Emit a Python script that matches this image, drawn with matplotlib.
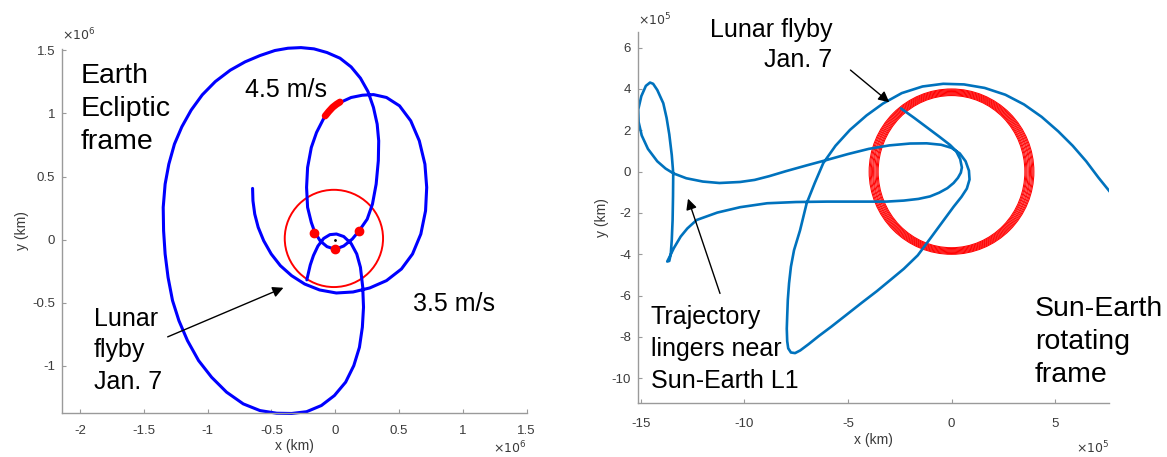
import matplotlib
matplotlib.use('Agg')
import matplotlib.pyplot as plt
from matplotlib.patches import Circle, Ellipse

plt.rcParams['font.family'] = ['Liberation Sans', 'DejaVu Sans']
plt.rcParams['axes.unicode_minus'] = False

# ---------------- left panel data (units of 1e6 km) ----------------
left_x = [-0.647, -0.644, -0.630, -0.603, -0.560, -0.501, -0.429, -0.341, -0.239, -0.122,
          0.009, 0.140, 0.271, 0.402, 0.519, 0.606, 0.671, 0.708, 0.717, 0.703,
          0.659, 0.592, 0.504, 0.402, 0.300, 0.213, 0.125, 0.038, -0.035, -0.093,
          -0.146, -0.187, -0.216, -0.224, -0.216, -0.187, -0.160, -0.117, -0.064, 0.000,
          0.067, 0.134, 0.188, 0.251, 0.292, 0.321, 0.338, 0.341, 0.329, 0.300,
          0.257, 0.198, 0.125, 0.038, -0.064, -0.166, -0.268, -0.370, -0.472, -0.589,
          -0.706, -0.822, -0.939, -1.041, -1.128, -1.201, -1.259, -1.303, -1.332, -1.347,
          -1.344, -1.332, -1.309, -1.274, -1.224, -1.157, -1.070, -0.968, -0.851, -0.720,
          -0.589, -0.458, -0.341, -0.224, -0.108, -0.006, 0.082, 0.146, 0.190, 0.213,
          0.222, 0.216, 0.198, 0.169, 0.125, 0.067, 0.010, -0.041, -0.090, -0.135,
          -0.170, -0.195, -0.210, -0.222]
left_y = [0.406, 0.308, 0.203, 0.098, -0.008, -0.113, -0.206, -0.285, -0.351, -0.398,
          -0.422, -0.414, -0.382, -0.324, -0.232, -0.113, 0.045, 0.229, 0.414, 0.598,
          0.783, 0.941, 1.060, 1.126, 1.149, 1.144, 1.126, 1.086, 1.033, 0.954,
          0.849, 0.730, 0.572, 0.414, 0.256, 0.137, 0.060, -0.010, -0.055, -0.076,
          -0.050, 0.005, 0.071, 0.163, 0.282, 0.440, 0.625, 0.783, 0.915, 1.047,
          1.173, 1.279, 1.368, 1.437, 1.482, 1.511, 1.521, 1.516, 1.498, 1.458,
          1.408, 1.342, 1.252, 1.147, 1.026, 0.894, 0.757, 0.598, 0.440, 0.256,
          0.071, -0.113, -0.298, -0.482, -0.641, -0.799, -0.957, -1.089, -1.207, -1.300,
          -1.353, -1.374, -1.376, -1.362, -1.313, -1.234, -1.128, -0.997, -0.852, -0.693,
          -0.535, -0.377, -0.219, -0.113, -0.030, 0.025, 0.045, 0.040, 0.010, -0.050,
          -0.125, -0.200, -0.265, -0.318]

burn_x = [-0.078, -0.050, -0.020, 0.010, 0.038]
burn_y = [0.980, 1.015, 1.048, 1.072, 1.090]
dots_x = [-0.167, 0.000, 0.188]
dots_y = [0.050, -0.076, 0.071]
moon_r = 0.385

left_xticks = [-2, -1.5, -1, -0.5, 0, 0.5, 1, 1.5]
left_yticks = [-1, -0.5, 0, 0.5, 1, 1.5]

# ---------------- right panel data (units of 1e5 km) ----------------
right_x = [-2.44, -1.80, -1.20, -0.60, -0.07, 0.22, 0.42, 0.50, 0.45, 0.31,
           0.10, -0.20, -0.60, -1.04, -1.60, -2.30, -3.14, -4.50, -6.00, -7.50,
           -8.90, -10.20, -11.30, -12.30, -12.75, -13.07, -13.40, -13.62, -13.72, -13.62,
           -13.55, -13.50, -13.46, -13.44, -13.43, -13.50, -13.62, -13.75, -13.91, -14.20,
           -14.40, -14.55, -14.75, -14.97, -15.12, -15.10, -14.95, -14.65, -14.20, -13.80,
           -13.43, -12.80, -12.00, -11.20, -10.20, -9.50, -8.80, -8.00, -7.00, -6.00,
           -5.00, -4.00, -3.00, -2.00, -1.20, -0.50, 0.00, 0.40, 0.68, 0.84,
           0.87, 0.74, 0.48, 0.10, -0.45, -1.00, -1.63, -2.30, -2.90, -3.60,
           -4.34, -5.10, -5.80, -6.40, -6.90, -7.30, -7.55, -7.75, -7.88, -7.93,
           -7.95, -7.93, -7.90, -7.84, -7.75, -7.60, -7.31, -6.99, -6.60, -6.19,
           -5.60, -4.90, -4.10, -3.30, -2.40, -1.40, -0.40, 0.60, 1.60, 2.60,
           3.50, 4.35, 5.15, 5.85, 6.50, 7.10, 7.64]
right_y = [3.06, 2.60, 2.15, 1.70, 1.29, 1.00, 0.60, 0.20, -0.05, -0.30,
           -0.55, -0.80, -1.02, -1.20, -1.32, -1.40, -1.45, -1.45, -1.45, -1.47,
           -1.53, -1.72, -1.98, -2.34, -2.75, -3.14, -3.70, -4.15, -4.35, -4.32,
           -4.00, -3.30, -2.34, -1.20, -0.08, 0.80, 1.80, 2.60, 3.31, 3.95,
           4.25, 4.31, 4.15, 3.65, 3.00, 2.40, 1.75, 1.10, 0.50, 0.15,
           -0.08, -0.32, -0.48, -0.55, -0.50, -0.40, -0.22, 0.02, 0.30, 0.57,
           0.85, 1.10, 1.27, 1.36, 1.37, 1.30, 1.15, 0.88, 0.50, 0.05,
           -0.38, -0.82, -1.22, -1.70, -2.45, -3.20, -4.05, -4.70, -5.20, -5.78,
           -6.35, -6.95, -7.50, -7.95, -8.35, -8.65, -8.78, -8.75, -8.55, -8.20,
           -7.60, -7.00, -6.20, -5.40, -4.60, -3.80, -2.84, -1.53, -0.55, 0.41,
           1.25, 2.02, 2.72, 3.30, 3.80, 4.12, 4.25, 4.22, 4.05, 3.72,
           3.25, 2.65, 1.95, 1.25, 0.50, -0.30, -0.97]

ring_w = [7.08, 7.18, 7.28, 7.40, 7.52, 7.62, 7.74, 7.85, 7.95]
ring_h = [7.36, 7.44, 7.52, 7.60, 7.68, 7.76, 7.84, 7.92, 8.00]

right_xticks = [-15, -10, -5, 0, 5]
right_yticks = [-10, -8, -6, -4, -2, 0, 2, 4, 6]

TXT = 18
BIG = 20.5
TICK = 9.5
GREY = '#3a3a3a'
SPINE = '#9a9a9a'


def matlab_axes(ax, xt, yt, xpad, xlabpad):
    # box off, inward ticks, grey axes like the MATLAB default
    for s in ['top', 'right']:
        ax.spines[s].set_visible(False)
    for s in ['left', 'bottom']:
        ax.spines[s].set_color(SPINE)
        ax.spines[s].set_linewidth(1.0)
    ax.set_xticks(xt)
    ax.set_yticks(yt)
    ax.set_xticklabels(['{:g}'.format(v) for v in xt])
    ax.set_yticklabels(['{:g}'.format(v) for v in yt])
    ax.tick_params(direction='in', length=3, width=0.8, color=SPINE,
                   labelsize=TICK, labelcolor=GREY, pad=5)
    ax.tick_params(axis='x', pad=xpad)
    ax.set_xlabel('x (km)', fontsize=TICK + 0.5, color=GREY, labelpad=xlabpad)
    ax.set_ylabel('y (km)', fontsize=TICK + 0.5, color=GREY, labelpad=2)


fig = plt.figure(figsize=(11.67, 4.57), dpi=100)

# ---------------- left panel ----------------
ax1 = fig.add_axes([0.0531, 0.0969, 0.3982, 0.7959])
ax1.plot(left_x, left_y, color='#0000FF', lw=2.2, solid_capstyle='round', clip_on=False)
ax1.add_patch(Circle((-0.01, 0.01), moon_r, fill=False, color='#FF0000', lw=1.4))
ax1.plot(burn_x, burn_y, color='#FF0000', lw=5, solid_capstyle='round')
ax1.plot(dots_x, dots_y, 'o', color='#FF0000', ms=6)
ax1.plot([0], [0], 'o', color='black', ms=1)
ax1.set_xlim(-2.14, 1.5)
ax1.set_ylim(-1.37, 1.51)
matlab_axes(ax1, left_xticks, left_yticks, 9, 1)

ax1.text(-1.994, 1.40, 'Earth\nEcliptic\nframe', fontsize=BIG, va='top', ha='left', linespacing=1.35)
ax1.text(-0.705, 1.126, '4.5 m/s', fontsize=TXT, va='baseline', ha='left')
ax1.text(0.606, -0.562, '3.5 m/s', fontsize=TXT, va='baseline', ha='left')
ax1.text(-1.892, -0.53, 'Lunar\nflyby\nJan. 7', fontsize=TXT, va='top', ha='left', linespacing=1.41)
ax1.annotate('', xy=(-0.385, -0.372), xytext=(-1.332, -0.778),
             arrowprops=dict(arrowstyle='-|>', color='black', lw=1.0, mutation_scale=16))
ax1.text(0.0, 1.0165, r'$\times10^{6}$', transform=ax1.transAxes, fontsize=9,
         color=GREY, ha='left', va='bottom')
ax1.text(1.0, -0.119, r'$\times10^{6}$', transform=ax1.transAxes, fontsize=9,
         color=GREY, ha='right', va='bottom')

# ---------------- right panel ----------------
ax2 = fig.add_axes([0.5467, 0.1188, 0.4036, 0.8118])
for w, h in zip(ring_w, ring_h):
    ax2.add_patch(Ellipse((0, 0), w, h, fill=False, color='#FF0000', lw=0.75))
ax2.plot(right_x, right_y, color='#0072BD', lw=1.9, solid_capstyle='round')
ax2.set_xlim(-15.13, 7.6)
ax2.set_ylim(-11.18, 6.77)
matlab_axes(ax2, right_xticks, right_yticks, 11, 2)

ax2.text(-5.76, 7.42, 'Lunar flyby\nJan. 7', fontsize=TXT, va='top', ha='right',
         linespacing=1.28, clip_on=False)
ax2.annotate('', xy=(-2.90, 3.27), xytext=(-4.98, 5.0),
             arrowprops=dict(arrowstyle='-|>', color='black', lw=1.0, mutation_scale=16))
ax2.annotate('', xy=(-12.76, -1.18), xytext=(-11.13, -6.02),
             arrowprops=dict(arrowstyle='-|>', color='black', lw=1.0, mutation_scale=16))
ax2.text(-14.52, -6.46, 'Trajectory\nlingers near\nSun-Earth L1', fontsize=TXT,
         va='top', ha='left', linespacing=1.41)
ax2.text(4.02, -6.0, 'Sun-Earth\nrotating\nframe', fontsize=BIG, va='top', ha='left',
         linespacing=1.35, clip_on=False)
ax2.text(0.0, 1.01, r'$\times10^{5}$', transform=ax2.transAxes, fontsize=9,
         color=GREY, ha='left', va='bottom')
ax2.text(1.0, -0.144, r'$\times10^{5}$', transform=ax2.transAxes, fontsize=9,
         color=GREY, ha='right', va='bottom')

fig.savefig('out.png', dpi=100)
